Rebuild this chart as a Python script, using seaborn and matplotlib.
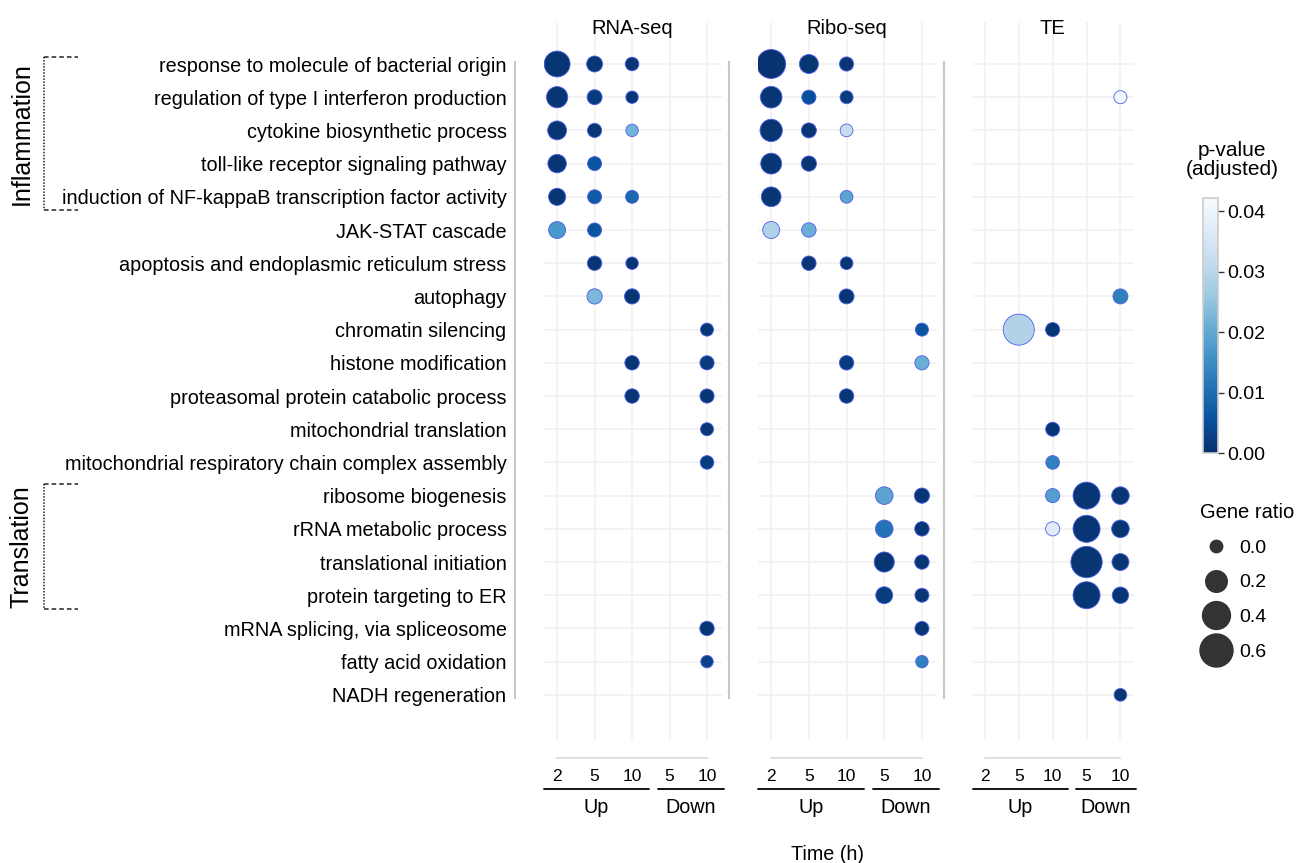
import matplotlib
matplotlib.use("Agg")
import matplotlib.pyplot as plt
import matplotlib.transforms as mtransforms
from matplotlib.lines import Line2D
import seaborn as sns
import pandas as pd
import numpy as np

# GO terms, top to bottom
terms = [
    "response to molecule of bacterial origin",
    "regulation of type I interferon production",
    "cytokine biosynthetic process",
    "toll-like receptor signaling pathway",
    "induction of NF-kappaB transcription factor activity",
    "JAK-STAT cascade",
    "apoptosis and endoplasmic reticulum stress",
    "autophagy",
    "chromatin silencing",
    "histone modification",
    "proteasomal protein catabolic process",
    "mitochondrial translation",
    "mitochondrial respiratory chain complex assembly",
    "ribosome biogenesis",
    "rRNA metabolic process",
    "translational initiation",
    "protein targeting to ER",
    "mRNA splicing, via spliceosome",
    "fatty acid oxidation",
    "NADH regeneration",
]
conditions = ["Up 2", "Up 5", "Up 10", "Down 5", "Down 10"]
time_labels = ["2", "5", "10", "5", "10"]
assays = ["RNA-seq", "Ribo-seq", "TE"]

# RNA-seq
rna_row = [0, 0, 0, 1, 1, 1, 2, 2, 2, 3, 3, 4, 4, 4, 5, 5, 6, 6, 7, 7,
           8, 9, 9, 10, 10, 11, 12, 17, 18]
rna_cond = ["Up 2", "Up 5", "Up 10", "Up 2", "Up 5", "Up 10", "Up 2", "Up 5", "Up 10",
            "Up 2", "Up 5", "Up 2", "Up 5", "Up 10", "Up 2", "Up 5", "Up 5", "Up 10",
            "Up 5", "Up 10", "Down 10", "Up 10", "Down 10", "Up 10", "Down 10",
            "Down 10", "Down 10", "Down 10", "Down 10"]
rna_ratio = [0.33, 0.065, 0.02, 0.19, 0.045, 0.0, 0.13, 0.03, 0.0, 0.12, 0.027,
             0.09, 0.027, 0.01, 0.085, 0.027, 0.035, 0.0, 0.05, 0.05, 0.01,
             0.035, 0.03, 0.035, 0.03, 0.01, 0.02, 0.035, 0.0]
rna_padj = [0.001, 0.001, 0.001, 0.001, 0.002, 0.001, 0.001, 0.001, 0.022, 0.001,
            0.006, 0.001, 0.007, 0.009, 0.017, 0.006, 0.001, 0.001, 0.023, 0.001,
            0.001, 0.001, 0.002, 0.001, 0.001, 0.001, 0.002, 0.001, 0.003]

# Ribo-seq
ribo_row = [0, 0, 0, 1, 1, 1, 2, 2, 2, 3, 3, 4, 4, 5, 5, 6, 6, 7, 8, 9, 9, 10,
            13, 13, 14, 14, 15, 15, 16, 16, 17, 18]
ribo_cond = ["Up 2", "Up 5", "Up 10", "Up 2", "Up 5", "Up 10", "Up 2", "Up 5", "Up 10",
             "Up 2", "Up 5", "Up 2", "Up 10", "Up 2", "Up 5", "Up 5", "Up 10", "Up 10",
             "Down 10", "Up 10", "Down 10", "Up 10", "Down 5", "Down 10", "Down 5",
             "Down 10", "Down 5", "Down 10", "Down 5", "Down 10", "Down 10", "Down 10"]
ribo_ratio = [0.44, 0.133, 0.03, 0.2, 0.03, 0.01, 0.22, 0.045, 0.005, 0.18, 0.05,
              0.15, 0.005, 0.085, 0.035, 0.035, 0.005, 0.045, 0.01, 0.035, 0.03,
              0.035, 0.1, 0.05, 0.1, 0.035, 0.16, 0.035, 0.085, 0.027, 0.027, 0.0]
ribo_padj = [0.0005, 0.001, 0.001, 0.001, 0.005, 0.002, 0.001, 0.001, 0.032, 0.001,
             0.001, 0.001, 0.019, 0.029, 0.021, 0.001, 0.001, 0.001, 0.006, 0.002,
             0.021, 0.001, 0.019, 0.001, 0.011, 0.001, 0.001, 0.001, 0.002, 0.001,
             0.001, 0.013]

# TE
te_row = [1, 7, 8, 8, 11, 12, 13, 13, 13, 14, 14, 14, 15, 15, 16, 16, 19]
te_cond = ["Down 10", "Down 10", "Up 5", "Up 10", "Up 10", "Up 10", "Up 10", "Down 5",
           "Down 10", "Up 10", "Down 5", "Down 10", "Down 5", "Down 10", "Down 5",
           "Down 10", "Down 10"]
te_ratio = [0.01, 0.045, 0.52, 0.03, 0.027, 0.02, 0.03, 0.37, 0.1, 0.03, 0.37, 0.1,
            0.53, 0.085, 0.37, 0.075, 0.005]
te_padj = [0.041, 0.013, 0.029, 0.001, 0.001, 0.013, 0.018, 0.001, 0.001, 0.037,
           0.001, 0.001, 0.001, 0.001, 0.001, 0.001, 0.001]

size_legend = [0.0, 0.2, 0.4, 0.6]
pval_ticks = [0.00, 0.01, 0.02, 0.03, 0.04]


def make_frame(rows, conds, ratios, padjs):
    df = pd.DataFrame({"row": rows, "cond": conds, "ratio": ratios, "padj": padjs})
    df["x"] = df["cond"].map({c: i for i, c in enumerate(conditions)})
    return df


frames = [
    make_frame(rna_row, rna_cond, rna_ratio, rna_padj),
    make_frame(ribo_row, ribo_cond, ribo_ratio, ribo_padj),
    make_frame(te_row, te_cond, te_ratio, te_padj),
]

sns.set_style("white")
plt.rcParams["font.family"] = ["Liberation Sans", "DejaVu Sans"]
plt.rcParams["text.color"] = "black"

W, H = 1296, 863
fig = plt.figure(figsize=(W / 100, H / 100), dpi=100)

SMIN, SMAX = 80, 565
PMAX = 0.0422
cmap = "Blues_r"

# panel pixel extents (left, right)
panel_px = [(544, 722), (758, 937), (973, 1134)]
top_px, bot_px = 22, 740
axes = []
for i, (l, r) in enumerate(panel_px):
    ax = fig.add_axes([l / W, (H - bot_px) / H, (r - l) / W, (bot_px - top_px) / H])
    axes.append(ax)
    df = frames[i]
    sns.scatterplot(data=df, x="x", y="row", hue="padj", size="ratio",
                    palette=cmap, hue_norm=(0, PMAX), sizes=(SMIN, SMAX),
                    size_norm=(0, 0.6), edgecolor="#4d5fe8", linewidth=0.6,
                    legend=False, ax=ax, zorder=3)
    for s in ["top", "right"]:
        ax.spines[s].set_visible(False)
    ax.spines["left"].set_position(("outward", 21))
    ax.spines["left"].set_bounds(-0.05, 19.1)
    ax.spines["left"].set_color("#c8c8c8")
    ax.spines["left"].set_linewidth(1.5)
    ax.spines["bottom"].set_position(("outward", 13))
    ax.spines["bottom"].set_bounds(0, 4)
    ax.spines["bottom"].set_color("#d9d9d9")
    ax.spines["bottom"].set_linewidth(1.2)

    ax.set_xlim(-0.35, 4.4)
    ax.set_ylim(20.36, -1.265)
    ax.set_xticks(range(5))
    ax.set_xticklabels(time_labels)
    ax.set_yticks(range(len(terms)))
    if i == 0:
        ax.set_yticklabels(terms)
    else:
        ax.set_yticklabels([])
    ax.set_xlabel("")
    ax.set_ylabel("")
    ax.grid(True, color="#f2f2f2", linewidth=1.3)
    ax.set_axisbelow(True)
    ax.tick_params(axis="both", length=0, colors="black")
    ax.tick_params(axis="x", pad=8, labelsize=12.5)
    ax.tick_params(axis="y", pad=6, labelsize=14.3)

    ax.text(2, (bot_px - 28) / (bot_px - top_px), assays[i], transform=ax.get_xaxis_transform(),
            ha="center", va="center", fontsize=14.5)

    # Up / Down group lines
    tr = ax.get_xaxis_transform()
    ly = -(789 - bot_px) / (bot_px - top_px)
    ty = -(807 - bot_px) / (bot_px - top_px)
    ax.plot([-0.35, 2.45], [ly, ly], color="black", lw=1.3, transform=tr, clip_on=False)
    ax.plot([2.7, 4.45], [ly, ly], color="black", lw=1.3, transform=tr, clip_on=False)
    ax.text(1.05, ty, "Up", transform=tr, ha="center", va="center", fontsize=14.2)
    ax.text(3.57, ty, "Down", transform=tr, ha="center", va="center", fontsize=14.2)

fig.text(828 / W, 1 - 854 / H, "Time (h)", ha="center", va="center", fontsize=14.2)

# category brackets on the left
btr = mtransforms.blended_transform_factory(fig.transFigure, axes[0].transData)
for label, y0, y1 in [("Inflammation", -0.2, 4.4), ("Translation", 12.64, 16.42)]:
    x0, x1 = 44 / W, 78 / W
    fig.add_artist(Line2D([x0, x1], [y0, y0], transform=btr, color="#222222",
                          lw=1.1, ls=(0, (3, 2))))
    fig.add_artist(Line2D([x0, x1], [y1, y1], transform=btr, color="#222222",
                          lw=1.1, ls=(0, (3, 2))))
    fig.add_artist(Line2D([x0, x0], [y0, y1], transform=btr, color="#222222",
                          lw=1.1, ls=(0, (1, 1))))
    fig.text(22 / W, (y0 + y1) / 2, label, transform=btr, rotation=90,
             ha="center", va="center", fontsize=18)

# colorbar
cax = fig.add_axes([1203 / W, (H - 453) / H, 15 / W, 255 / H])
sm = plt.cm.ScalarMappable(cmap=cmap, norm=plt.Normalize(0, PMAX))
cb = fig.colorbar(sm, cax=cax, ticks=pval_ticks)
cb.ax.set_yticklabels([f"{t:.2f}" for t in pval_ticks])
cb.ax.tick_params(length=4, width=1, color="#333333", pad=3, labelsize=14,
                  labelcolor="black")
cb.outline.set_edgecolor("#cccccc")
cb.outline.set_linewidth(1.2)
fig.text(1232 / W, 1 - 160 / H, "p-value\n(adjusted)", ha="center", va="center",
         fontsize=15, linespacing=0.95)

# gene ratio size legend
handles = []
for v in size_legend:
    s = SMIN + v / 0.6 * (SMAX - SMIN)
    handles.append(Line2D([], [], marker="o", ls="", color="#333333",
                          markersize=np.sqrt(s)))
leg = fig.legend(handles, [f"{v:.1f}" for v in size_legend], title="Gene ratio",
                 loc="upper left", bbox_to_anchor=(1196 / W, 1 - 499 / H), frameon=False,
                 fontsize=14, title_fontsize=14.5, labelspacing=0.88, handlelength=1.65,
                 handletextpad=0.4, borderpad=0.2, borderaxespad=0, alignment="left")
for t in leg.get_texts():
    t.set_color("black")
leg.get_title().set_color("black")

fig.savefig("out.png", dpi=100)
